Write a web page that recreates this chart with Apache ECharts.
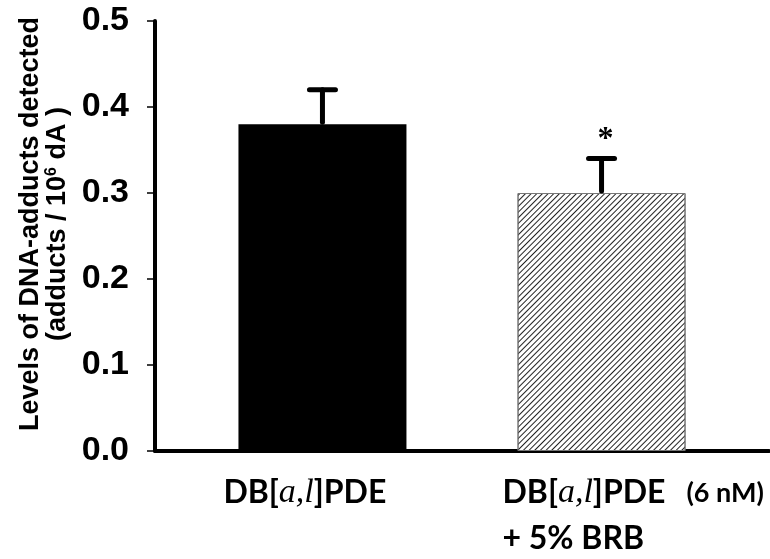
<!DOCTYPE html>
<html>
<head>
<meta charset="utf-8">
<script src="https://cdn.jsdelivr.net/npm/echarts@6/dist/echarts.min.js"></script>
<style>
html, body { margin: 0; padding: 0; background: #fff; }
#main { width: 770px; height: 559px; }
</style>
</head>
<body>
<div id="main"></div>
<script>
// data
var positions = [0, 1];
var means = [0.38, 0.30];
var upperErr = [0.42, 0.34];
var sigMarks = ['', '*'];
var groupLabels = [
    '{n|DB[}{i|a,l}{n|]PDE}',
    '{n|DB[}{i|a,l}{n|]PDE}{s|(6 nM)}\n{n|+ 5% BRB}'
];
var yTitle = '{t|Levels of DNA-adducts detected}\n{t|(adducts / 10}{sup|6}{t| dA )}';

var labelShift = 0.355; // labels start a bit left of the bar

var myChart = echarts.init(document.getElementById('main'));

var barData = positions.map(function (p, i) { return [p, means[i]]; });
var errData = positions.map(function (p, i) { return [p, means[i], upperErr[i]]; });

myChart.setOption({
    animation: false,
    grid: {
        left: 155,
        right: 1,
        top: 21,
        bottom: 108,
        outerBoundsMode: 'none'
    },
    xAxis: {
        type: 'value',
        min: -0.6,
        max: 1.6,
        splitLine: { show: false },
        axisTick: { show: false },
        axisLine: { onZero: false, lineStyle: { color: '#000', width: 4 } },
        axisLabel: {
            customValues: positions.map(function (p) { return p - labelShift; }),
            align: 'left',
            verticalAlign: 'top',
            margin: 19,
            formatter: function (v) {
                for (var i = 0; i < positions.length; i++) {
                    if (Math.abs(positions[i] - labelShift - v) < 0.01) return groupLabels[i];
                }
                return '';
            },
            rich: {
                n: { fontFamily: 'Lato', fontWeight: 'bold', fontSize: 32, color: '#000', lineHeight: 46 },
                i: { fontFamily: 'Liberation Serif', fontStyle: 'italic', fontSize: 34, color: '#000', lineHeight: 46 },
                s: { fontFamily: 'Lato', fontWeight: 'bold', fontSize: 27, color: '#000', lineHeight: 46, padding: [0, 0, 0, 21] }
            }
        }
    },
    yAxis: {
        type: 'value',
        min: 0,
        max: 0.5,
        interval: 0.1,
        splitLine: { show: false },
        axisLine: { show: true, onZero: false, lineStyle: { color: '#000', width: 4 } },
        axisTick: { show: true, length: 8, lineStyle: { color: '#000', width: 1.5 } },
        axisLabel: {
            color: '#000',
            fontFamily: 'Liberation Sans',
            fontWeight: 'bold',
            fontSize: 34,
            margin: 26,
            formatter: function (v) { return v.toFixed(1); }
        },
        name: yTitle,
        nameLocation: 'middle',
        nameRotate: 90,
        nameGap: 72,
        nameTextStyle: {
            padding: [0, 0, 0, 24],
            rich: {
                t: { fontFamily: 'Liberation Sans', fontWeight: 'bold', fontSize: 27, color: '#000', lineHeight: 27 },
                sup: { fontFamily: 'Liberation Sans', fontWeight: 'bold', fontSize: 16, color: '#000', lineHeight: 27, verticalAlign: 'top' }
            }
        }
    },
    series: [
        {
            type: 'bar',
            barWidth: 168,
            data: barData.map(function (d, i) {
                return i === 0
                    ? { value: d, itemStyle: { color: '#000' } }
                    : {
                        value: d,
                        itemStyle: {
                            color: '#fff',
                            borderColor: '#777',
                            borderWidth: 1,
                            decal: {
                                symbol: 'rect',
                                dashArrayX: [1, 0],
                                dashArrayY: [1, 2.2],
                                rotation: -Math.PI / 4,
                                color: '#222'
                            }
                        }
                    };
            })
        },
        {
            type: 'custom',
            data: errData,
            z: 10,
            renderItem: function (params, api) {
                var x = api.value(0);
                var base = api.coord([x, api.value(1)]);
                var top = api.coord([x, api.value(2)]);
                var half = 13;
                var style = { stroke: '#000', lineWidth: 5, lineCap: 'round' };
                return {
                    type: 'group',
                    children: [
                        { type: 'line', shape: { x1: base[0], y1: base[1] - 2, x2: top[0], y2: top[1] }, style: style },
                        { type: 'line', shape: { x1: top[0] - half, y1: top[1], x2: top[0] + half, y2: top[1] }, style: style },
                        {
                            type: 'text',
                            style: {
                                x: top[0] + 4,
                                y: top[1] - 19,
                                text: sigMarks[params.dataIndex],
                                font: 'bold 32px "Liberation Serif"',
                                fill: '#000',
                                align: 'center',
                                verticalAlign: 'middle'
                            }
                        }
                    ]
                };
            }
        }
    ]
});

window.addEventListener('resize', function () {
    myChart.resize();
});
</script>
</body>
</html>
